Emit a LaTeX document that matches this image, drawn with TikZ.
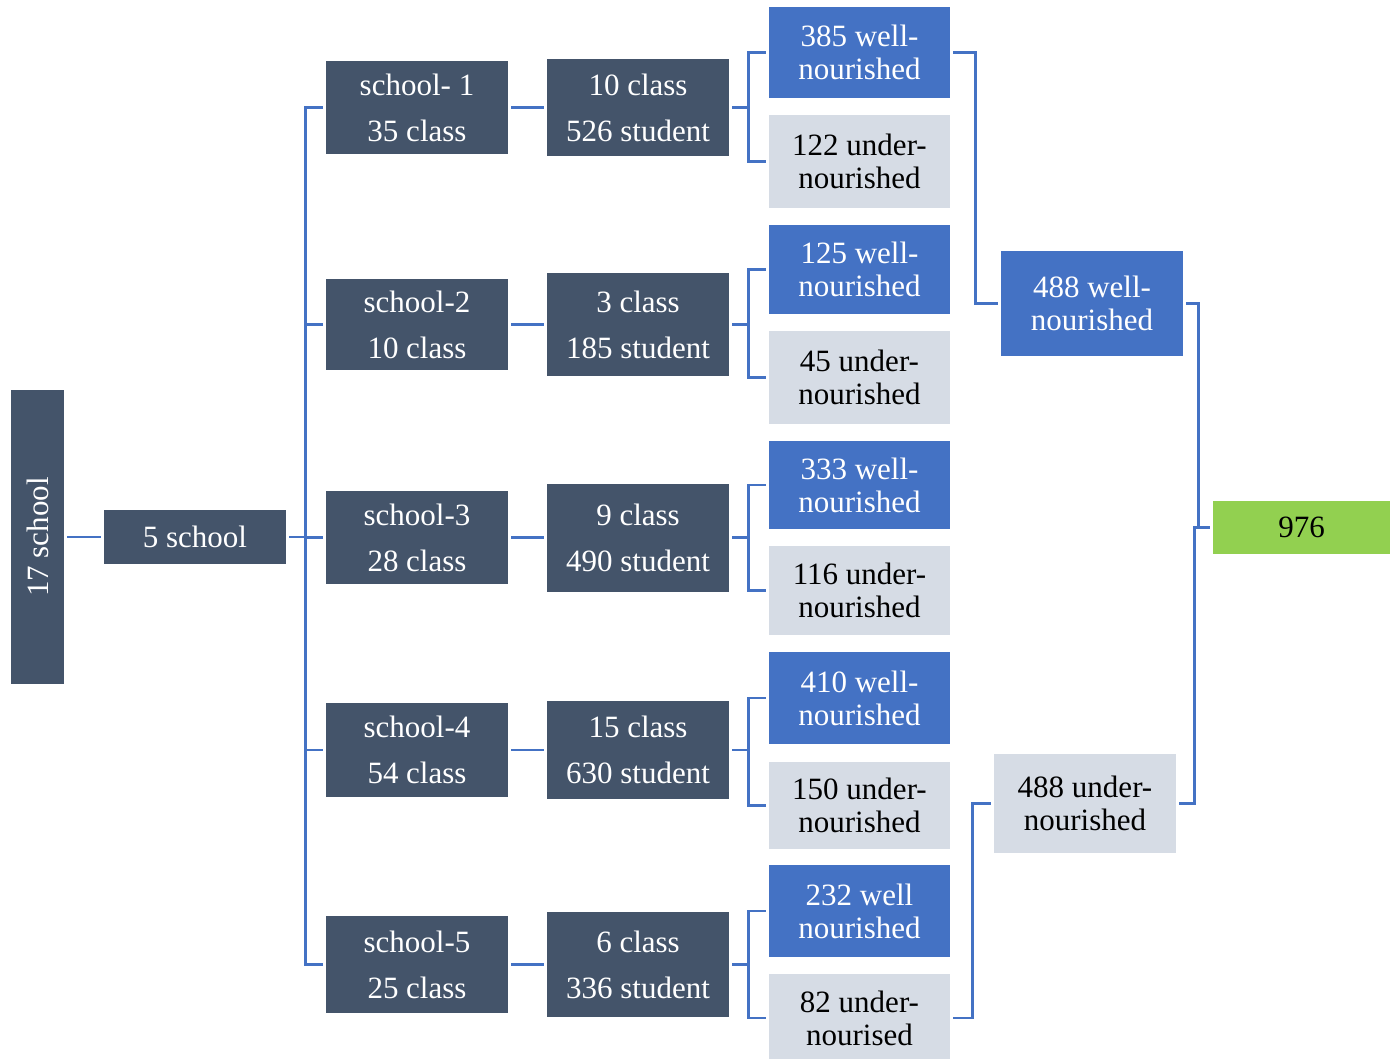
\documentclass[tikz,border=0pt]{standalone}
\usepackage{fontspec}
\setmainfont{Liberation Serif}
\definecolor{darkbox}{HTML}{44546A}
\definecolor{bluebox}{HTML}{4472C4}
\definecolor{graybox}{HTML}{D6DCE5}
\definecolor{greenbox}{HTML}{92D050}
\definecolor{connblue}{HTML}{4472C4}
\begin{document}
\begin{tikzpicture}[x=1pt,y=-1pt,
  basebox/.style={rectangle, inner sep=0pt, align=center},
  darkone/.style={basebox, fill=darkbox, text=white, font=\fontsize{31}{33}\selectfont},
  darktwo/.style={basebox, fill=darkbox, text=white, font=\fontsize{31}{46}\selectfont, minimum width=182pt},
  wellbox/.style={basebox, fill=bluebox, text=white, font=\fontsize{31}{33}\selectfont, minimum width=181pt},
  underbox/.style={basebox, fill=graybox, text=black, font=\fontsize{31}{33}\selectfont, minimum width=181pt},
  totalbox/.style={basebox, fill=greenbox, text=black, font=\fontsize{31}{33}\selectfont},
  conn/.style={draw=connblue, line width=2.6pt}
]
\useasboundingbox (0,0) rectangle (1390,1059);
\fill[white] (0,0) rectangle (1390,1059);

% level 0 and 1
\node[darkone, rotate=90, minimum width=294pt, minimum height=53pt] (s17) at (37.5,537) {17 school};
\node[darkone, minimum width=182pt, minimum height=54pt] (s5) at (195,537) {5 school};

% schools
\node[darktwo, minimum height=93pt] (sc1) at (417,107.5) {school- 1\\35 class};
\node[darktwo, minimum height=91pt] (sc2) at (417,324.5) {school-2\\10 class};
\node[darktwo, minimum height=93pt] (sc3) at (417,537.5) {school-3\\28 class};
\node[darktwo, minimum height=94pt] (sc4) at (417,750) {school-4\\54 class};
\node[darktwo, minimum height=97pt] (sc5) at (417,964.5) {school-5\\25 class};

% classes
\node[darktwo, minimum height=97pt] (cl1) at (638,107.5) {10 class\\526 student};
\node[darktwo, minimum height=103pt] (cl2) at (638,324.5) {3 class\\185 student};
\node[darktwo, minimum height=108pt] (cl3) at (638,537.5) {9 class\\490 student};
\node[darktwo, minimum height=98pt] (cl4) at (638,750) {15 class\\630 student};
\node[darktwo, minimum height=105pt] (cl5) at (638,964.5) {6 class\\336 student};

% outcomes
\node[wellbox, minimum height=91pt] (w1) at (859.5,52.5) {385 well-\\nourished};
\node[underbox, minimum height=93pt] (u1) at (859.5,161.5) {122 under-\\nourished};
\node[wellbox, minimum height=89pt] (w2) at (859.5,269.5) {125 well-\\nourished};
\node[underbox, minimum height=93pt] (u2) at (859.5,377.5) {45 under-\\nourished};
\node[wellbox, minimum height=88pt] (w3) at (859.5,485) {333 well-\\nourished};
\node[underbox, minimum height=89pt] (u3) at (859.5,590.5) {116 under-\\nourished};
\node[wellbox, minimum height=92pt] (w4) at (859.5,698) {410 well-\\nourished};
\node[underbox, minimum height=87pt] (u4) at (859.5,805.5) {150 under-\\nourished};
\node[wellbox, minimum height=92pt] (w5) at (859.5,911) {232 well\\nourished};
\node[underbox, minimum height=88pt] (u5) at (859.5,1018) {82 under-\\nourised};

% totals
\node[wellbox, minimum width=182pt, minimum height=105pt] (tw) at (1092,303.5) {488 well-\\nourished};
\node[underbox, minimum width=182pt, minimum height=99pt] (tu) at (1085,803.5) {488 under-\\nourished};
\node[totalbox, minimum width=177pt, minimum height=53pt] (tt) at (1301.5,527.5) {976};

% connectors
\draw[conn] ([xshift=3pt]s17.south) -- ([xshift=-3pt]s5.west);
\foreach \k in {1,...,5}{
  \draw[conn] ([xshift=3pt]s5.east) -- ++(16,0) |- ([xshift=-3pt]sc\k.west);
  \draw[conn] ([xshift=3pt]sc\k.east) -- ([xshift=-3pt]cl\k.west);
  \draw[conn] ([xshift=3pt]cl\k.east) -- ++(16,0) |- ([xshift=-3pt]w\k.west);
  \draw[conn] ([xshift=3pt]cl\k.east) -- ++(16,0) |- ([xshift=-3pt]u\k.west);
}
\draw[conn] ([xshift=3pt]w1.east) -- ++(22,0) |- ([xshift=-3pt]tw.west);
\draw[conn] ([xshift=3pt]u5.east) -- ++(19,0) |- ([xshift=-3pt]tu.west);
\draw[conn] ([xshift=3pt]tw.east) -- ++(12,0) |- ([xshift=-3pt]tt.west);
\draw[conn] ([xshift=3pt]tu.east) -- ++(15,0) |- ([xshift=-3pt]tt.west);
\end{tikzpicture}
\end{document}
